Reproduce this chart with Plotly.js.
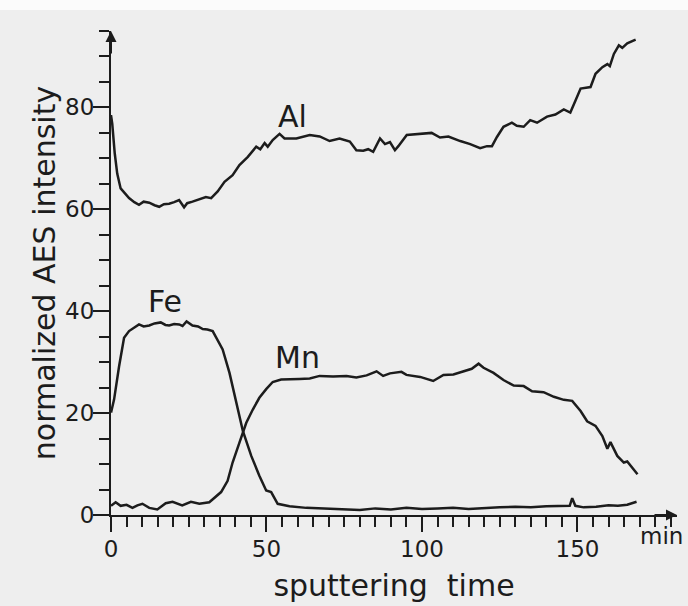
<!DOCTYPE html>
<html>
<head>
<meta charset="utf-8">
<script src="https://cdn.plot.ly/plotly-3.0.1.min.js"></script>
<style>html,body{margin:0;padding:0;background:#eeeeee;}#chart{width:688px;height:606px;}</style>
</head>
<body>
<div id="chart"></div>
<script>
// ---- data ----
var alX = [0, 0.4, 1.2, 2, 3.1, 4.2, 5.8, 7.5, 9, 10.5, 12.3, 14, 15.5, 17, 18.7, 20.3, 21.9, 23.5, 24.5, 26.2, 28, 30.5, 32.2, 34.3, 36.5, 39.1, 41.3, 44, 46.7, 48, 49.4, 50.4, 52, 54.2, 55.8, 59.6, 63.9, 67.1, 70.3, 73.5, 76.8, 78.9, 81.1, 82.7, 84.3, 85.4, 86.5, 88.1, 89.7, 91.3, 92.4, 95.1, 99.4, 103.1, 105.8, 108.5, 112.3, 115.5, 118.7, 120.9, 122.5, 124.1, 126.2, 128.9, 130.5, 132.7, 134.8, 137, 140.2, 142.9, 145.6, 147.7, 149.4, 151, 154.2, 155.8, 158, 159.6, 160.4, 161.7, 163.3, 164.4, 166, 168.7];
var alY = [78.5, 76.8, 71, 67, 64.1, 63.3, 62.2, 61.4, 60.9, 61.5, 61.3, 60.8, 60.5, 61.0, 61.1, 61.4, 61.8, 60.4, 61.2, 61.5, 61.9, 62.4, 62.2, 63.5, 65.4, 66.7, 68.7, 70.3, 72.3, 71.8, 73, 72.3, 73.6, 74.8, 73.9, 73.9, 74.6, 74.3, 73.4, 73.9, 73.3, 71.6, 71.5, 71.8, 71.3, 72.6, 73.9, 72.8, 73.2, 71.6, 72.4, 74.6, 74.8, 75, 74.1, 74.3, 73.4, 72.8, 72, 72.4, 72.4, 74.2, 76.2, 77, 76.4, 76.2, 77.5, 77, 78.2, 78.6, 79.6, 79, 81.4, 83.7, 84, 86.6, 87.9, 88.5, 88.1, 90.5, 92.2, 91.7, 92.6, 93.3];

var feX = [0, 1, 2.6, 4.2, 5.8, 7.5, 9, 10.5, 12.3, 14, 16, 17.5, 18.7, 20.3, 21.9, 23, 24.3, 26.2, 28, 29.5, 31, 32.7, 34.3, 35.9, 38.1, 40.2, 42.4, 45.1, 47.7, 49.9, 51.5, 53.6, 57.4, 62.8, 68, 75, 80, 85, 90, 95, 100, 105, 110, 115, 120, 125, 130, 135, 140, 145, 147.5, 148.3, 149.3, 152, 156, 160, 163, 166, 169];
var feY = [20.1, 22.7, 29.2, 34.8, 36.1, 36.8, 37.4, 37.0, 37.2, 37.6, 37.8, 37.3, 37.2, 37.5, 37.4, 37.1, 38, 37.2, 37.0, 36.5, 36.4, 36.1, 34.4, 32.5, 27.9, 22, 16.5, 11.6, 7.7, 4.8, 4.5, 2.2, 1.7, 1.4, 1.3, 1.2, 1.0, 1.3, 1.1, 1.4, 1.2, 1.3, 1.4, 1.2, 1.4, 1.5, 1.6, 1.5, 1.7, 1.7, 1.8, 3.3, 1.8, 1.5, 1.6, 1.9, 1.8, 2.0, 2.6];

var mnX = [0, 1.5, 3.1, 5, 6.9, 8.5, 10.1, 12.3, 14.9, 17.6, 19.8, 22.9, 25.7, 28.4, 31.6, 33.2, 35.4, 37.5, 39.1, 41.3, 43.5, 45.6, 47.7, 49.9, 52, 54.7, 57.4, 60.6, 63.9, 67.1, 71.4, 75.7, 78.9, 82.2, 85.4, 87.5, 89.7, 93.4, 95, 99.4, 103.6, 106.9, 110.1, 113.3, 116, 118.2, 119.8, 123, 126.2, 129.5, 132.7, 135.4, 139.1, 142.4, 145.6, 148.3, 151, 153.1, 155.8, 158, 159.6, 160.6, 162.8, 164.9, 166, 169.3];
var mnY = [1.8, 2.5, 1.8, 2.0, 1.4, 1.9, 2.2, 1.4, 1.1, 2.3, 2.6, 1.9, 2.6, 2.2, 2.5, 3.3, 4.5, 6.7, 10.3, 14.2, 18.1, 20.7, 23, 24.7, 26.1, 26.6, 26.6, 26.7, 26.8, 27.3, 27.2, 27.3, 27.0, 27.4, 28.2, 27.3, 27.8, 28.1, 27.5, 27.1, 26.3, 27.5, 27.6, 28.2, 28.7, 29.7, 28.9, 27.9, 26.5, 25.4, 25.3, 24.3, 24.1, 23.2, 22.6, 22.4, 20.4, 18.4, 17.5, 15.5, 13, 14.3, 11.6, 10.3, 10.5, 8];

var seriesNames = ["Al", "Fe", "Mn"];
var labelX = [58.5, 17.4, 60];
var labelY = [78.3, 42, 31];
var xTickVals = [0, 50, 100, 150];
var yTickVals = [0, 20, 40, 60, 80];
var xTitle = "sputtering  time";
var yTitle = "normalized AES intensity";
var xUnit = "min";

// ---- chart ----
var ink = "#1c1c1c";
var lineStyle = {color: ink, width: 2.5};
var traces = [
  {x: alX, y: alY, mode: "lines", line: lineStyle, name: seriesNames[0], hoverinfo: "skip"},
  {x: feX, y: feY, mode: "lines", line: lineStyle, name: seriesNames[1], hoverinfo: "skip"},
  {x: mnX, y: mnY, mode: "lines", line: lineStyle, name: seriesNames[2], hoverinfo: "skip"}
];

var fam = "DejaVu Sans, Liberation Sans, sans-serif";
var annotations = seriesNames.map(function (n, i) {
  return {x: labelX[i], y: labelY[i], text: n, showarrow: false,
          font: {family: fam, color: ink, size: 30}};
});
// axis arrows
annotations.push({x: 182, y: 0, ax: -24, ay: 0, axref: "pixel", ayref: "pixel", text: "",
  showarrow: true, arrowhead: 2, arrowsize: 1.1, arrowwidth: 2, arrowcolor: ink});
annotations.push({x: 0, y: 95, ax: 0, ay: 24, axref: "pixel", ayref: "pixel", text: "",
  showarrow: true, arrowhead: 2, arrowsize: 1.1, arrowwidth: 2, arrowcolor: ink});
// unit label
annotations.push({x: 177, y: 0, yshift: -21, text: xUnit, showarrow: false,
  font: {family: fam, color: ink, size: 23}});

var layout = {
  width: 688, height: 606,
  margin: {l: 111, r: 11, t: 30.5, b: 91},
  paper_bgcolor: "#eeeeee",
  plot_bgcolor: "#eeeeee",
  showlegend: false,
  font: {family: fam, color: ink, size: 23},
  xaxis: {
    range: [0, 182], showgrid: false, zeroline: false,
    showline: true, linecolor: ink, linewidth: 2,
    tickmode: "array", tickvals: xTickVals, ticktext: xTickVals.map(String),
    ticks: "outside", ticklen: 15, tickwidth: 2, tickcolor: ink,
    minor: {dtick: 5, tick0: 0, ticks: "outside", ticklen: 10, tickwidth: 2, tickcolor: ink, showgrid: false},
    tickfont: {family: fam, size: 23, color: ink},
    ticklabelstandoff: -3,
    title: {text: xTitle, font: {family: fam, size: 30, color: ink}, standoff: 14},
    fixedrange: true
  },
  yaxis: {
    range: [0, 95], showgrid: false, zeroline: false,
    showline: true, linecolor: ink, linewidth: 2,
    tickmode: "array", tickvals: yTickVals, ticktext: yTickVals.map(String),
    ticks: "outside", ticklen: 16, tickwidth: 2, tickcolor: ink,
    minor: {dtick: 5, tick0: 0, ticks: "outside", ticklen: 10, tickwidth: 2, tickcolor: ink, showgrid: false},
    tickfont: {family: fam, size: 23, color: ink},
    ticklabelstandoff: -6,
    title: {text: yTitle, font: {family: fam, size: 30, color: ink}, standoff: 1},
    fixedrange: true
  },
  annotations: annotations,
  shapes: [
    {type: "rect", xref: "paper", yref: "paper", ysizemode: "pixel", yanchor: 1,
     x0: -0.3, x1: 1.1, y0: 21, y1: 40, fillcolor: "#fbfbfb", line: {width: 0}, layer: "below"}
  ]
};

Plotly.newPlot("chart", traces, layout, {displayModeBar: false, staticPlot: true});
</script>
</body>
</html>
